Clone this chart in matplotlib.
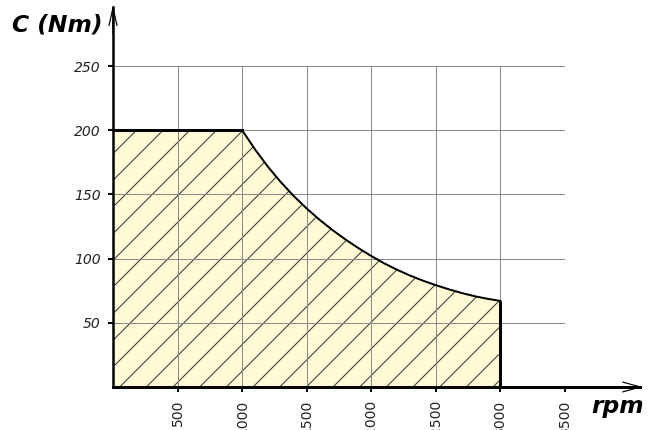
import matplotlib
matplotlib.use("Agg")
import matplotlib.pyplot as plt

# torque envelope
rpm = [0, 1000, 1100, 1200, 1300, 1400, 1500, 1600, 1700, 1800, 1900,
       2000, 2100, 2200, 2300, 2400, 2500, 2600, 2700, 2800, 2900, 3000]
torque = [200, 200, 185, 171.5, 159.5, 148.7, 139, 130.2, 122.2, 114.9, 108.2,
          102, 96.3, 91.3, 86.8, 82.8, 79.3, 76.1, 73.2, 70.7, 68.7, 67]

x_ticks = [500, 1000, 1500, 2000, 2500, 3000, 3500]
y_ticks = [50, 100, 150, 200, 250]

DPI = 160
px = 72 / DPI  # one pixel in points

plt.rcParams['font.family'] = ['DejaVu Sans']
plt.rcParams['hatch.linewidth'] = 1.0 * px

fig = plt.figure(figsize=(658 / DPI, 430 / DPI), dpi=DPI)
ax = fig.add_axes([113 / 658, 43 / 430, 452 / 658, 321 / 430])

ax.fill_between(rpm, torque, 0, facecolor='#fefad6', edgecolor='#333333',
                hatch='//', linewidth=0, zorder=1)

ax.set_xlim(0, 3500)
ax.set_ylim(0, 250)
ax.set_xticks(x_ticks)
ax.set_yticks(y_ticks)
ax.set_axisbelow(False)
ax.grid(color='#8a8a8a', linewidth=1.0 * px, zorder=2)

# outline of the envelope
ax.plot(rpm, torque, color='black', linewidth=2.0 * px, zorder=3,
        solid_joinstyle='round')
ax.plot(rpm[:2], torque[:2], color='black', linewidth=3.0 * px, zorder=3)
ax.vlines(rpm[-1], 0, torque[-1], color='black', linewidth=3.0 * px, zorder=3)

for s in ax.spines.values():
    s.set_visible(False)

# axis lines with arrows
ax.plot([0, 1.165], [0, 0], transform=ax.transAxes, clip_on=False,
        color='black', linewidth=3.0 * px, zorder=4)
ax.plot([0, 0], [0, 1.185], transform=ax.transAxes, clip_on=False,
        color='black', linewidth=2.5 * px, zorder=4)
ax.annotate('', xy=(1.172, 0), xytext=(1.10, 0), xycoords='axes fraction',
            arrowprops=dict(arrowstyle='->,head_length=0.8,head_width=0.22',
                            mutation_scale=10, lw=1.2 * px, color='black',
                            shrinkA=0, shrinkB=0))
ax.annotate('', xy=(0, 1.19), xytext=(0, 1.10), xycoords='axes fraction',
            arrowprops=dict(arrowstyle='->,head_length=0.8,head_width=0.18',
                            mutation_scale=10, lw=1.2 * px, color='black',
                            shrinkA=0, shrinkB=0))

ax.tick_params(direction='out', length=5 * px, width=2 * px, labelsize=6.3,
               labelcolor='#222222', pad=3.4)
ax.set_xticklabels([str(v) for v in x_ticks], rotation=90)
for lab in ax.get_yticklabels():
    lab.set_style('italic')

fig.text(12 / 658, 1 - 32 / 430, 'C (Nm)', fontsize=10.5, fontweight='bold',
         fontstyle='italic', va='baseline', ha='left')
fig.text(591 / 658, 1 - 413 / 430, 'rpm', fontsize=10.5, fontweight='bold',
         fontstyle='italic', va='baseline', ha='left')

fig.savefig('out.png', dpi=DPI)
